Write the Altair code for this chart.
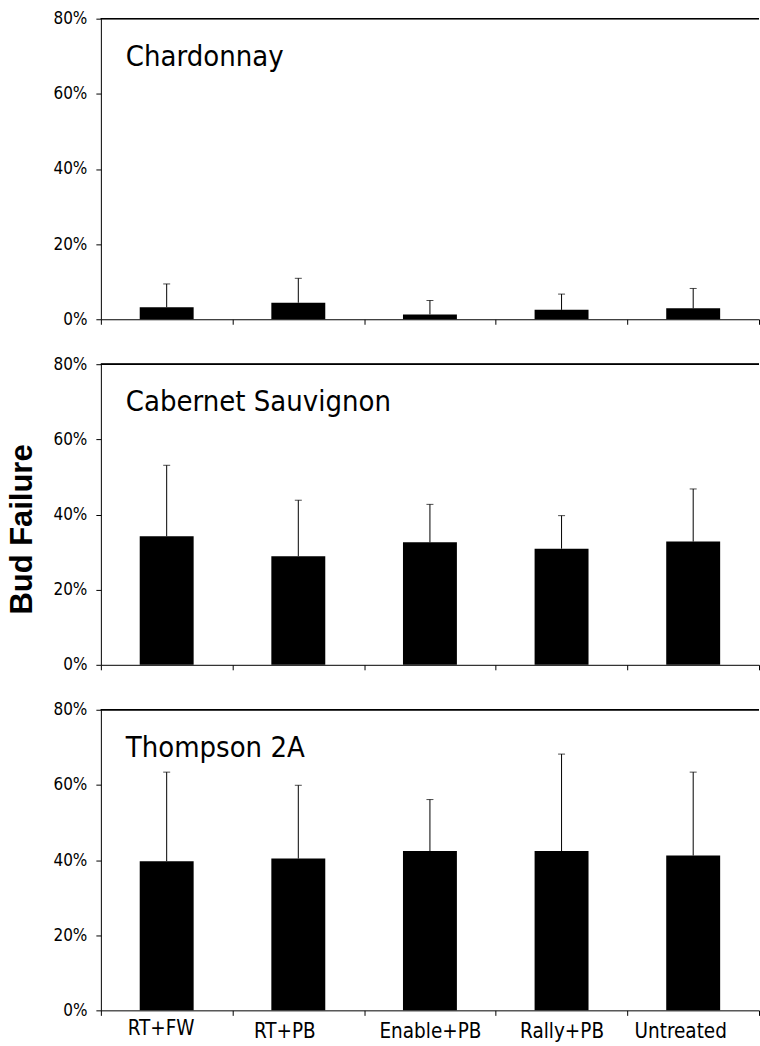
import altair as alt
import pandas as pd

# Treatments along the x axis
treatments = ["RT+FW", "RT+PB", "Enable+PB", "Rally+PB", "Untreated"]

# Mean bud failure (%) and standard deviation for each cultivar
chardonnay_mean = [3.2, 4.4, 1.3, 2.5, 2.9]
chardonnay_sd = [6.2, 6.5, 3.7, 4.2, 5.3]

cabernet_mean = [34.2, 28.9, 32.6, 30.9, 32.8]
cabernet_sd = [18.9, 14.9, 10.1, 8.8, 14.0]

thompson_mean = [39.7, 40.4, 42.4, 42.4, 41.2]
thompson_sd = [23.7, 19.5, 13.7, 25.8, 22.2]

cultivars = ["Chardonnay", "Cabernet Sauvignon", "Thompson 2A"]
means = [chardonnay_mean, cabernet_mean, thompson_mean]
sds = [chardonnay_sd, cabernet_sd, thompson_sd]

y_ticks = [0, 20, 40, 60, 80]

FONT = "DejaVu Sans Condensed, DejaVu Sans"
W, H = 659, 301


def panel(name, mean, sd, show_labels, show_title):
    df = pd.DataFrame({"treatment": treatments, "mean": mean, "sd": sd})
    df["upper"] = df["mean"] + df["sd"]
    df["top"] = y_ticks[-1]

    x_axis = alt.Axis(
        title=None,
        labels=show_labels,
        grid=False,
        tickBand="extent",
        tickSize=5,
        labelAngle=0,
        labelFont=FONT,
        labelFontSize=20.5,
        labelColor="black",
        labelPadding={
            "condition": [{"test": "datum.value === 'RT+FW'", "value": 3}],
            "value": 6,
        },
        labelOffset={
            "condition": [
                {"test": "datum.value === 'RT+FW'", "value": -6},
                {"test": "datum.value === 'RT+PB'", "value": -14},
                {"test": "datum.value === 'Untreated'", "value": -13},
            ],
            "value": 0,
        },
    )
    x = alt.X(
        "treatment:N",
        sort=treatments,
        scale=alt.Scale(paddingInner=0, paddingOuter=0),
        axis=x_axis,
    )

    y_axis_kwargs = dict(
        values=y_ticks,
        labelExpr="datum.value + '%'",
        tickSize=5,
        labelPadding=9,
        labelFont=FONT,
        labelFontSize=17,
        labelColor="black",
        grid=False,
    )
    if show_title:
        y_axis = alt.Axis(
            title="Bud Failure",
            titleFont="Liberation Sans",
            titleFontWeight="bold",
            titleFontSize=31,
            titleColor="black",
            titleAngle=270,
            titleAlign="center",
            titleBaseline="middle",
            titleX=-78,
            titleY=165,
            **y_axis_kwargs,
        )
    else:
        y_axis = alt.Axis(title=None, **y_axis_kwargs)

    y_scale = alt.Scale(domain=[0, 80], nice=False)

    def y_enc(field):
        return alt.Y(f"{field}:Q", scale=y_scale, axis=y_axis)

    base = alt.Chart(df)
    bars = base.mark_bar(color="black", size=54).encode(x=x, y=y_enc("mean"))
    whisker = base.mark_rule(color="black", strokeWidth=1).encode(
        x=x, y=y_enc("upper"), y2="mean:Q"
    )
    cap = base.mark_tick(color="black", size=7, thickness=1).encode(
        x=x, y=y_enc("upper")
    )
    top_line = base.mark_rule(color="black", strokeWidth=1).encode(y=y_enc("top"))
    label = alt.Chart(pd.DataFrame({"name": [name]})).mark_text(
        align="left",
        baseline="alphabetic",
        font=FONT,
        fontSize=29,
        color="black",
    ).encode(x=alt.value(25), y=alt.value(47), text="name:N")

    return alt.layer(bars, whisker, cap, top_line, label).properties(width=W, height=H)


panels = [
    panel(cultivars[0], means[0], sds[0], show_labels=False, show_title=False),
    panel(cultivars[1], means[1], sds[1], show_labels=False, show_title=True),
    panel(cultivars[2], means[2], sds[2], show_labels=True, show_title=False),
]

chart = (
    alt.vconcat(*panels, spacing=45, bounds="flush")
    .properties(
        autosize=alt.AutoSizeParams(type="pad"),
        padding={"left": 7, "top": 9, "right": 0, "bottom": 0},
    )
    .configure_view(stroke="transparent", strokeWidth=0)
    .configure_axis(domainColor="black", tickColor="black", domainWidth=1, tickWidth=1)
)

chart.save("out.html", embed_options={"renderer": "svg", "actions": False})
